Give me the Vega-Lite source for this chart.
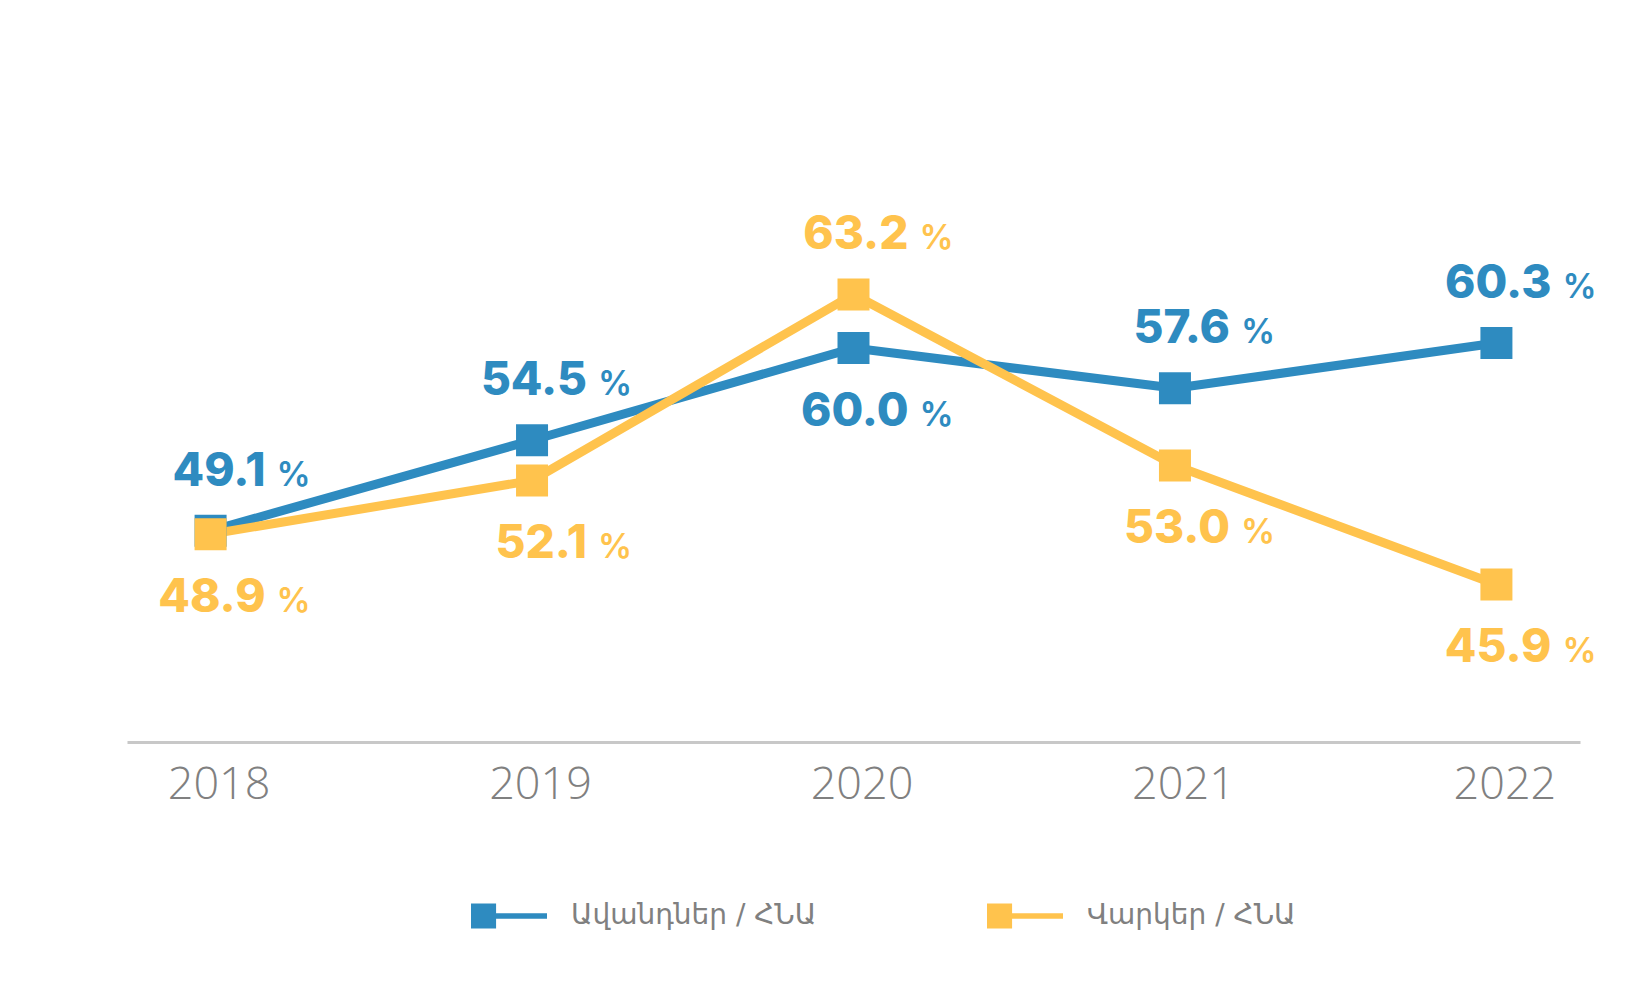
{
  "$schema": "https://vega.github.io/schema/vega-lite/v6.json",
  "autosize": "none",
  "width": 1453,
  "height": 637,
  "padding": {"left": 127, "top": 105, "right": 68, "bottom": 249},
  "background": "#ffffff",
  "config": {"view": {"stroke": null}},
  "data": {
    "values": [
      {"year": "2018", "series": "Ավանդներ / ՀՆԱ", "value": 49.1},
      {"year": "2019", "series": "Ավանդներ / ՀՆԱ", "value": 54.5},
      {"year": "2020", "series": "Ավանդներ / ՀՆԱ", "value": 60.0},
      {"year": "2021", "series": "Ավանդներ / ՀՆԱ", "value": 57.6},
      {"year": "2022", "series": "Ավանդներ / ՀՆԱ", "value": 60.3},
      {"year": "2018", "series": "Վարկեր / ՀՆԱ", "value": 48.9},
      {"year": "2019", "series": "Վարկեր / ՀՆԱ", "value": 52.1},
      {"year": "2020", "series": "Վարկեր / ՀՆԱ", "value": 63.2},
      {"year": "2021", "series": "Վարկեր / ՀՆԱ", "value": 53.0},
      {"year": "2022", "series": "Վարկեր / ՀՆԱ", "value": 45.9}
    ]
  },
  "transform": [
    {"joinaggregate": [{"op": "max", "field": "value", "as": "maxv"}], "groupby": ["year"]}
  ],
  "encoding": {
    "x": {
      "field": "year", "type": "ordinal",
      "scale": {"type": "point", "padding": 0.26},
      "axis": {
        "title": null, "labelAngle": 0, "ticks": false, "grid": false,
        "domainColor": "#C8C8C8", "domainWidth": 3,
        "labelFont": "Open Sans", "labelFontSize": 45, "labelFontWeight": 300,
        "labelColor": "#808080", "labelPadding": 20, "labelOffset": 8
      }
    },
    "y": {
      "field": "value", "type": "quantitative",
      "scale": {"domain": [36.5, 74.5], "zero": false, "nice": false},
      "axis": null
    },
    "color": {
      "field": "series", "type": "nominal",
      "scale": {"domain": ["Ավանդներ / ՀՆԱ", "Վարկեր / ՀՆԱ"], "range": ["#2E8BC0", "#FFC34D"]},
      "legend": {
        "title": null, "orient": "none", "legendX": 344, "legendY": 773,
        "direction": "horizontal",
        "symbolType": "M-1,-0.33H-0.34V0.33H-1Z M-0.34,-0.07H1V0.07H-0.34Z",
        "symbolSize": 5776, "symbolStrokeWidth": 0, "symbolOpacity": 1,
        "labelFont": "DejaVu Sans", "labelFontSize": 28, "labelColor": "#808080",
        "labelOffset": 24, "labelLimit": 0, "columnPadding": 170
      }
    }
  },
  "layer": [
    {"mark": {"type": "line", "strokeWidth": 9}},
    {"mark": {"type": "point", "shape": "square", "size": 1024, "filled": true, "opacity": 1}},
    {
      "transform": [{"filter": "datum.value == datum.maxv"}],
      "mark": {"type": "text", "font": "Inter", "fontSize": 46, "fontWeight": 800, "align": "right", "baseline": "alphabetic", "dx": 55, "dy": -45},
      "encoding": {"text": {"field": "value", "type": "quantitative", "format": ".1f"}}
    },
    {
      "transform": [{"filter": "datum.value == datum.maxv"}],
      "mark": {"type": "text", "font": "Inter", "fontSize": 34, "fontWeight": 600, "align": "left", "baseline": "alphabetic", "dx": 66, "dy": -45, "text": "%"}
    },
    {
      "transform": [{"filter": "datum.value < datum.maxv"}],
      "mark": {"type": "text", "font": "Inter", "fontSize": 46, "fontWeight": 800, "align": "right", "baseline": "alphabetic", "dx": 55, "dy": 78},
      "encoding": {"text": {"field": "value", "type": "quantitative", "format": ".1f"}}
    },
    {
      "transform": [{"filter": "datum.value < datum.maxv"}],
      "mark": {"type": "text", "font": "Inter", "fontSize": 34, "fontWeight": 600, "align": "left", "baseline": "alphabetic", "dx": 66, "dy": 78, "text": "%"}
    }
  ]
}
